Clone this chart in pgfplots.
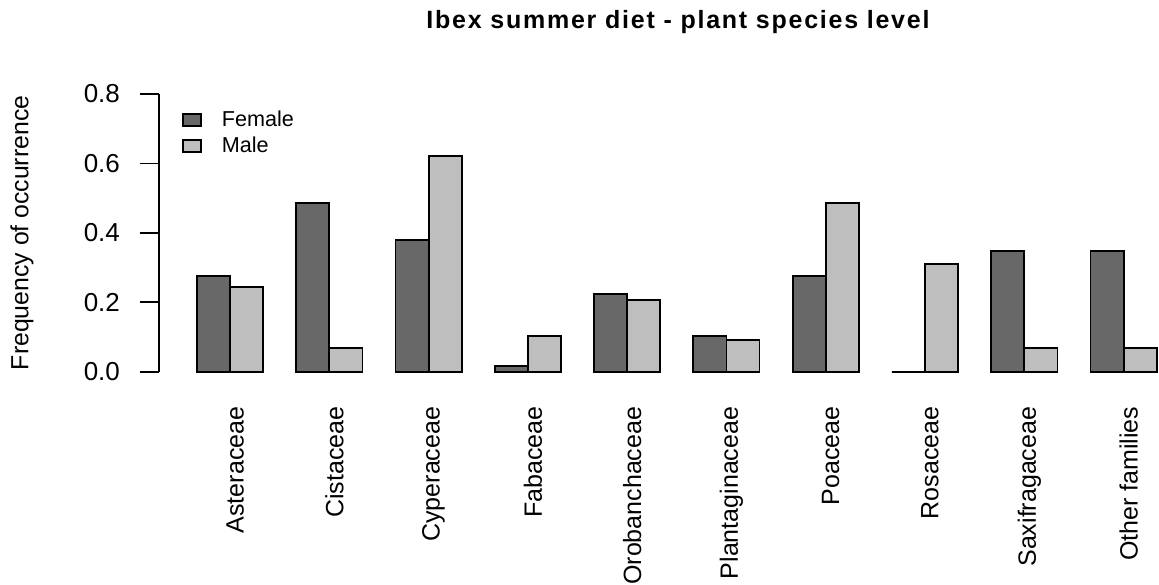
\documentclass[border=0pt]{standalone}
\usepackage{fontspec}
\setmainfont{Liberation Sans}
\newfontfamily\titlefont{Liberation Sans Bold}[LetterSpace=7]
\usepackage{pgfplots}
\pgfplotsset{compat=1.18}
\definecolor{fem}{HTML}{686868}
\definecolor{mal}{HTML}{BEBEBE}
\begin{document}
\begin{tikzpicture}
\useasboundingbox (0,0) rectangle (579.5pt,292pt);
\node[anchor=base, font=\titlefont\fontsize{12.5}{15}\selectfont] at (339pt,277.5pt) {Ibex summer diet - plant species level};
\begin{axis}[
  at={(79.3pt,106.15pt)}, anchor=south west,
  scale only axis, width=500.2pt, height=138.85pt,
  xmin=-0.16, xmax=30.07, ymin=0, ymax=0.8,
  enlargelimits=false, clip=false,
  axis y line*=left, axis x line*=bottom,
  x axis line style={draw=none},
  y axis line style={-, line width=0.9pt, black},
  tick align=outside,
  major tick length=9.5pt,
  ytick={0,0.2,0.4,0.6,0.8},
  yticklabels={0.0,0.2,0.4,0.6,0.8},
  ytick style={line width=0.9pt, black},
  xtick style={draw=none},
  yticklabel style={font=\fontsize{13}{15}\selectfont},
  yticklabel shift=6.3pt,
  xtick={2.15,5.15,8.15,11.15,14.15,17.15,20.15,23.15,26.15,29.15},
  xticklabels={Asteraceae,Cistaceae,Cyperaceae,Fabaceae,Orobanchaceae,Plantaginaceae,Poaceae,Rosaceae,Saxifragaceae,Other families},
  xticklabel style={rotate=90, anchor=east, font=\fontsize{12.5}{15}\selectfont},
  xticklabel shift=4.5pt,
  ylabel={Frequency of occurrence},
  every axis y label/.style={at={(axis description cs:-0.1365,0.5)}, rotate=90, anchor=center, font=\fontsize{12.4}{15}\selectfont},
  legend style={at={(axis description cs:0.023,0.955)}, anchor=north west, draw=none, fill=none, inner sep=0pt, font=\fontsize{10.8}{13}\selectfont, row sep=-0.5pt, cells={anchor=west}, /tikz/every odd column/.append style={column sep=8pt}},
  legend image code/.code={\draw[#1, line width=0.9pt] (0pt,-3pt) rectangle (9pt,3pt);},
]
\addplot[ybar, bar width=1, bar shift=0pt, fill=fem, draw=black, line width=0.9pt]
  coordinates {(1.5,0.2766) (4.5,0.4852) (7.5,0.3803) (10.5,0.0173) (13.5,0.2239) (16.5,0.1037) (19.5,0.2766) (22.5,0) (25.5,0.3469) (28.5,0.3469)};
\addlegendentry{Female}
\addplot[ybar, bar width=1, bar shift=0pt, fill=mal, draw=black, line width=0.9pt]
  coordinates {(2.5,0.2432) (5.5,0.0691) (8.5,0.6223) (11.5,0.1037) (14.5,0.2074) (17.5,0.0922) (20.5,0.4852) (23.5,0.3111) (26.5,0.0691) (29.5,0.0691)};
\addlegendentry{Male}
\end{axis}
\end{tikzpicture}
\end{document}
